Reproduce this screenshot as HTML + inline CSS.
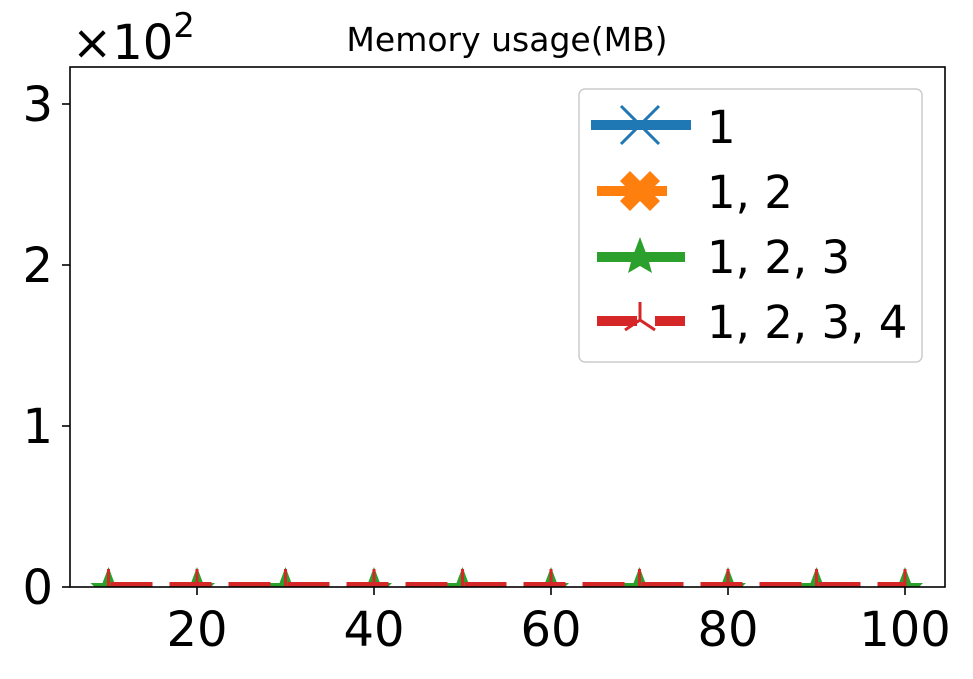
<!DOCTYPE html>
<html><head><meta charset="utf-8"><style>
body{margin:0;background:#fff;}
svg text{font-family:"DejaVu Sans","Liberation Sans",sans-serif;}
</style></head><body>
<svg id="chart" width="973" height="674" viewBox="0 0 973 674" xmlns="http://www.w3.org/2000/svg">
<defs><clipPath id="pc"><rect x="70" y="67" width="875" height="520"/></clipPath></defs>
<rect x="0" y="0" width="973" height="674" fill="#fff"/>
<text x="507" y="51" font-size="33" text-anchor="middle">Memory usage(MB)</text>
<text x="72" y="59" font-size="48">×10<tspan dy="-22" font-size="34">2</tspan></text>
<g id="series" clip-path="url(#pc)"></g>
<g id="axes"></g>
<g>
<rect x="579" y="89" width="343" height="273" rx="6" fill="#fff" fill-opacity="0.8" stroke="#ccc" stroke-width="1.5"/>
<g>
<line x1="591" y1="125" x2="691" y2="125" stroke="#1f77b4" stroke-width="10"/>
<path d="M621 106 L659 144 M659 106 L621 144" stroke="#1f77b4" stroke-width="3"/>
<text x="707" y="143" font-size="45">1</text></g>
<g>
<line x1="597" y1="191" x2="667" y2="191" stroke="#ff7f0e" stroke-width="10"/>
<path d="M620 180 L630 170 L640 180 L650 170 L660 180 L650 190 L660 200 L650 210 L640 200 L630 210 L620 200 L630 190Z" transform="translate(0,1)" fill="#ff7f0e"/>
<text x="707" y="208" font-size="45">1, 2</text></g>
<g>
<line x1="597" y1="257" x2="685" y2="257" stroke="#2ca02c" stroke-width="10"/>
<path d="M640 237 L646 253 L658 253 L649 262 L652 273 L640 266 L628 273 L631 262 L622 253 L634 253Z" fill="#2ca02c"/>
<text x="707" y="273" font-size="45">1, 2, 3</text></g>
<g>
<line x1="597" y1="321" x2="637" y2="321" stroke="#d62728" stroke-width="10"/>
<line x1="655" y1="321" x2="685" y2="321" stroke="#d62728" stroke-width="10"/>
<path d="M640 302 L640 320 L625 330 M640 320 L655 330" stroke="#d62728" stroke-width="3" fill="none"/>
<text x="707" y="338" font-size="45">1, 2, 3, 4</text></g>
</g>
</svg>
<script>
const categories=[10,20,30,40,50,60,70,80,90,100];
const s1=[0,0,0,0,0,0,0,0,0,0];
const s12=[0,0,0,0,0,0,0,0,0,0];
const s123=[0,0,0,0,0,0,0,0,0,0];
const s1234=[0,0,0,0,0,0,0,0,0,0];
const xTicks=[20,40,60,80,100];
const yTicks=[0,1,2,3];
const NS="http://www.w3.org/2000/svg";
const X=v=>108.5+(v-10)*8.85;
const Y=v=>587-v*1.61;
function mk(t,a,p){const e=document.createElementNS(NS,t);for(const k in a)e.setAttribute(k,a[k]);p.appendChild(e);return e;}
const S=document.getElementById('series'),A=document.getElementById('axes');
function line(vals,color,dash,name){
 const p=mk('polyline',{points:vals.map((v,i)=>X(categories[i])+','+Y(v)).join(' '),fill:'none',stroke:color,'stroke-width':10,'stroke-dasharray':dash,'stroke-dashoffset':-2},S);
 
 
}
line(s1,'#1f77b4','42 17','series-1-line');
line(s12,'#ff7f0e','42 17','series-1-2-line');
line(s123,'#2ca02c','42 17','series-1-2-3-line');
categories.forEach((c,i)=>{const x=X(c),y=Y(s123[i]);
 const st=mk('path',{d:`M${x} ${y-20} L${x+6} ${y-4} L${x+18} ${y-4} L${x+9} ${y+5} L${x+12} ${y+16} L${x} ${y+9} L${x-12} ${y+16} L${x-9} ${y+5} L${x-18} ${y-4} L${x-6} ${y-4}Z`,fill:'#2ca02c'},S);
 
 });
line(s1234,'#d62728','42 17','series-1-2-3-4-line');
categories.forEach((c,i)=>{const x=X(c),y=Y(s1234[i]);
 const m=mk('path',{d:`M${x} ${y-18} L${x} ${y} L${x-15} ${y+10} M${x} ${y} L${x+15} ${y+10}`,stroke:'#d62728','stroke-width':3,fill:'none'},S);
 
 });
const fr=mk('rect',{x:70,y:67,width:875,height:520,fill:'none',stroke:'#000','stroke-width':1.6},A);


xTicks.forEach(t=>{const x=X(t);
 mk('line',{x1:x,y1:587,x2:x,y2:595,stroke:'#000','stroke-width':1.6},A);
 const tx=mk('text',{x:x,y:646,'font-size':48,'text-anchor':'middle'},A);tx.textContent=t;
 
 });
yTicks.forEach(t=>{const y=Y(t*100);
 mk('line',{x1:62,y1:y,x2:70,y2:y,stroke:'#000','stroke-width':1.6},A);
 const tx=mk('text',{x:53,y:y+17,'font-size':48,'text-anchor':'end'},A);tx.textContent=t;
 
 });
</script>
</body></html>
